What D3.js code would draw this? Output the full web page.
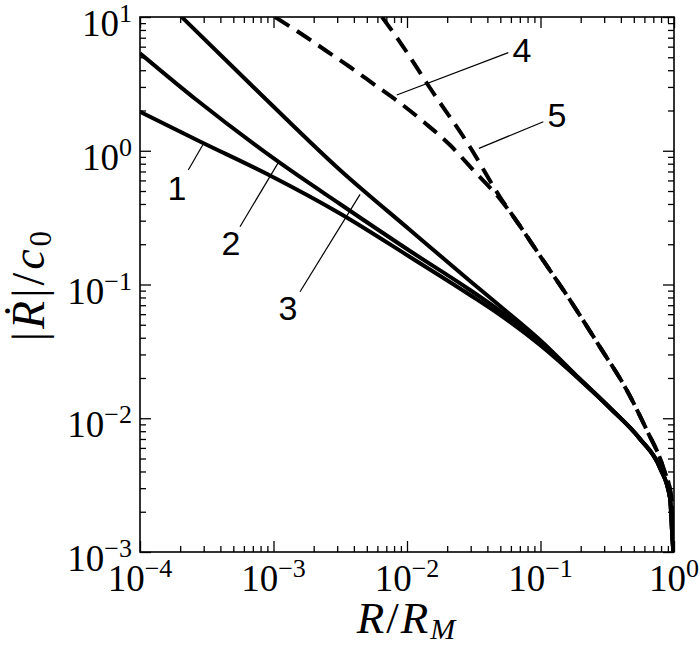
<!DOCTYPE html>
<html>
<head>
<meta charset="utf-8">
<script src="https://cdn.jsdelivr.net/npm/d3@7"></script>
<style>
  html, body { margin: 0; padding: 0; background: #fff; }
  svg { display: block; }
</style>
</head>
<body>
<svg id="chart" width="700" height="645"></svg>
<script>
// ---------------- data ----------------
const xTickExps = [-4, -3, -2, -1, 0];
const yTickExps = [-3, -2, -1, 0, 1];

// curve 1 (solid)
const c1x = [1e-4, 2.813e-4, 9.41e-4, 3.148e-3, 0.01053, 0.02964, 0.04972, 0.09915, 0.1976, 0.3317, 0.5563, 0.7855, 0.9333, 0.988, 1.0];
const c1y = [1.959, 1.173, 0.653, 0.3395, 0.1606, 0.0835, 0.0592, 0.03529, 0.01932, 0.01193, 0.00700, 0.00425, 0.002534, 0.001035, 0.000983];
// curve 2 (solid)
const c2x = [1e-4, 2.659e-4, 1.086e-3, 3.148e-3, 0.01053, 0.02964, 0.04972, 0.09915, 0.1976, 0.3317, 0.5563, 0.7855, 0.9333, 0.988, 1.0];
const c2y = [5.354, 2.395, 0.828, 0.3998, 0.178, 0.0910, 0.0634, 0.0365, 0.0195, 0.01193, 0.00700, 0.00425, 0.002534, 0.001035, 0.000983];
// curve 3 (solid)
const c3x = [2.053e-4, 8.89e-4, 3.148e-3, 0.01053, 0.02964, 0.04972, 0.09915, 0.1976, 0.3317, 0.5563, 0.7855, 0.9333, 0.988, 1.0];
const c3y = [10, 2.395, 0.718, 0.2556, 0.1062, 0.0691, 0.03848, 0.01965, 0.01193, 0.00700, 0.00425, 0.002534, 0.001035, 0.000983];
// curve 4 (dashed)
const c4x = [1.026e-3, 1.579e-3, 2.431e-3, 3.741e-3, 5.758e-3, 8.86e-3, 0.01364, 0.02099, 0.03231, 0.04972, 0.0702, 0.09915, 0.1663, 0.2791, 0.4421, 0.6246, 0.8273, 0.9611, 0.9829, 1.0];
const c4y = [10, 7.593, 5.666, 4.228, 3.101, 2.275, 1.612, 1.104, 0.6937, 0.4357, 0.2738, 0.1640, 0.0766, 0.0340, 0.01626, 0.00817, 0.00432, 0.002447, 0.001387, 0.000983];
// curve 5 (dashed)
const c5x = [6.5e-3, 8.86e-3, 0.01487, 0.02964, 0.04972, 0.0702, 0.09915, 0.1663, 0.2791, 0.4421, 0.6246, 0.8273, 0.9611, 0.9829, 1.0];
const c5y = [10, 6.50, 2.946, 1.067, 0.451, 0.2738, 0.1640, 0.0766, 0.0340, 0.01626, 0.00817, 0.00432, 0.002447, 0.001387, 0.000983];

// annotation labels (data coordinates)
const annLabels = ["1", "2", "3", "4", "5"];
const annTextX = [1.89e-4, 4.81e-4, 1.285e-3, 0.0726, 0.133];
const annTextY = [0.4285, 0.1663, 0.0543, 4.61, 1.507];
const annLineX1 = [2.95e-4, 1.086e-3, 4.45e-3, 8.38e-3, 0.0346];
const annLineY1 = [1.104, 0.815, 0.472, 2.61, 1.042];
const annLineX2 = [2.30e-4, 5.61e-4, 1.58e-3, 0.0574, 0.105];
const annLineY2 = [0.718, 0.2704, 0.0883, 5.41, 1.648];

// ---------------- chart ----------------
const svg = d3.select("#chart");
const L = 140, R = 674, T = 17, B = 552;
const x = d3.scaleLog().domain([1e-4, 1]).range([L, R]);
const y = d3.scaleLog().domain([1e-3, 10]).range([B, T]);

svg.append("defs").append("clipPath").attr("id", "clip")
  .append("rect").attr("x", L).attr("y", T).attr("width", R - L).attr("height", B - T);

const serif = "'Liberation Serif', 'Times New Roman', serif";
const sans = "'Liberation Sans', Arial, Helvetica, sans-serif";

// ticks
const majorX = xTickExps.map(e => Math.pow(10, e));
const majorY = yTickExps.map(e => Math.pow(10, e));
const minorX = x.ticks().filter(v => !majorX.some(m => Math.abs(m - v) / m < 1e-6));
const minorY = y.ticks().filter(v => !majorY.some(m => Math.abs(m - v) / m < 1e-6));

function addAxis(axisFn, scale, values, size, transform) {
  const g = svg.append("g").attr("transform", transform)
    .call(axisFn(scale).tickValues(values).tickSize(size).tickFormat(""));
  g.select(".domain").remove();
  g.selectAll(".tick line").attr("stroke", "#000").attr("stroke-width", 1.3);
}
const MJ = 11, MN = 6;
addAxis(d3.axisBottom, x, majorX, -MJ, `translate(0,${B})`);
addAxis(d3.axisBottom, x, minorX, -MN, `translate(0,${B})`);
addAxis(d3.axisTop, x, majorX, -MJ, `translate(0,${T})`);
addAxis(d3.axisTop, x, minorX, -MN, `translate(0,${T})`);
addAxis(d3.axisLeft, y, majorY, -MJ, `translate(${L},0)`);
addAxis(d3.axisLeft, y, minorY, -MN, `translate(${L},0)`);
addAxis(d3.axisRight, y, majorY, -MJ, `translate(${R},0)`);
addAxis(d3.axisRight, y, minorY, -MN, `translate(${R},0)`);

// frame
svg.append("rect").attr("x", L).attr("y", T).attr("width", R - L).attr("height", B - T)
  .attr("fill", "none").attr("stroke", "#000").attr("stroke-width", 1.6);

// tick labels
function powLabel(sel, e) {
  sel.append("tspan").text("10");
  sel.append("tspan").attr("dy", -14).attr("font-size", 26)
    .text(e < 0 ? "\u2212" + Math.abs(e) : String(e));
}
xTickExps.forEach(e => {
  const t = svg.append("text").attr("x", x(Math.pow(10, e))).attr("y", 591)
    .attr("text-anchor", "middle").attr("font-family", serif).attr("font-size", 37);
  powLabel(t, e);
});
yTickExps.forEach(e => {
  const t = svg.append("text").attr("x", L - 8).attr("y", y(Math.pow(10, e)) + 19)
    .attr("text-anchor", "end").attr("font-family", serif).attr("font-size", 37);
  powLabel(t, e);
});

// axis titles
const xt = svg.append("text").attr("x", (L + R) / 2).attr("y", 633)
  .attr("text-anchor", "middle").attr("font-family", serif).attr("font-size", 45)
  .attr("letter-spacing", 2);
xt.append("tspan").attr("font-style", "italic").text("R");
xt.append("tspan").text("/");
xt.append("tspan").attr("font-style", "italic").text("R");
xt.append("tspan").attr("font-style", "italic").attr("font-size", 30).attr("dy", 6).text("M");

const yt = svg.append("text").attr("transform", `translate(44,${(T + B) / 2}) rotate(-90)`)
  .attr("text-anchor", "middle").attr("font-family", serif).attr("font-size", 46)
  .attr("letter-spacing", 3);
yt.append("tspan").text("|");
yt.append("tspan").attr("font-style", "italic").text("\u1E58");
yt.append("tspan").text("|/");
yt.append("tspan").attr("font-style", "italic").text("c");
yt.append("tspan").attr("font-size", 31).attr("dy", 7).text("0");

// curves
const line = d3.line().x(d => x(d[0])).y(d => y(d[1])).curve(d3.curveMonotoneX);
const plot = svg.append("g").attr("clip-path", "url(#clip)");
const curves = [
  { xs: c1x, ys: c1y, dash: null },
  { xs: c2x, ys: c2y, dash: null },
  { xs: c3x, ys: c3y, dash: null },
  { xs: c4x, ys: c4y, dash: "17,9" },
  { xs: c5x, ys: c5y, dash: "17,9" }
];
curves.forEach(c => {
  plot.append("path")
    .datum(c.xs.map((v, i) => [v, c.ys[i]]))
    .attr("d", line)
    .attr("fill", "none").attr("stroke", "#000").attr("stroke-width", 4)
    .attr("stroke-dasharray", c.dash);
});

// annotations
annLabels.forEach((lab, i) => {
  svg.append("line")
    .attr("x1", x(annLineX1[i])).attr("y1", y(annLineY1[i]))
    .attr("x2", x(annLineX2[i])).attr("y2", y(annLineY2[i]))
    .attr("stroke", "#000").attr("stroke-width", 1.2);
  svg.append("text").attr("x", x(annTextX[i])).attr("y", y(annTextY[i]))
    .attr("text-anchor", "middle").attr("font-family", sans).attr("font-size", 34)
    .text(lab);
});
</script>
</body>
</html>
